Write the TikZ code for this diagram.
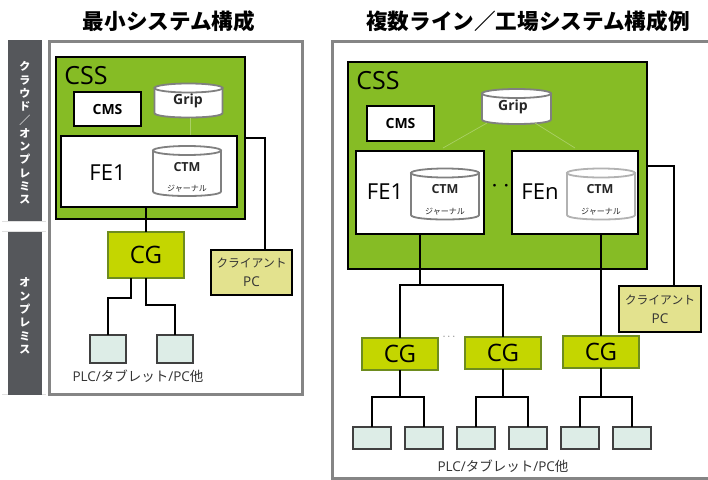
\documentclass[tikz,border=0pt]{standalone}
\usepackage{fontspec}
\setmainfont{Open Sans}
\newfontfamily\jp{Noto Sans CJK JP}
\definecolor{framegray}{HTML}{858585}
\definecolor{bandgray}{HTML}{55575B}
\definecolor{cssgreen}{HTML}{86BC25}
\definecolor{cgfill}{HTML}{C4D600}
\definecolor{cgline}{HTML}{6E8C1E}
\definecolor{clientfill}{HTML}{E3E28E}
\definecolor{devfill}{HTML}{DDEDE7}
\tikzset{
 frame/.style={draw=framegray,line width=3pt,fill=white,rectangle,inner sep=0,outer sep=0},
 band/.style={fill=bandgray,rectangle,inner sep=0,outer sep=0,text=white,font=\jp\bfseries\fontsize{11}{13.3}\selectfont,align=center},
 cssbox/.style={draw=black,line width=1.8pt,fill=cssgreen,rectangle,inner sep=0,outer sep=0},
 febox/.style={draw=black,line width=2.2pt,fill=white,rectangle,inner sep=0,outer sep=0},
 cmsbox/.style={draw=black,line width=1.8pt,fill=white,rectangle,inner sep=0,outer sep=0,font=\bfseries\fontsize{14}{16}\selectfont,minimum width=67pt,minimum height=34pt},
 cgbox/.style={draw=cgline,line width=1.4pt,fill=cgfill,rectangle,inner sep=0,outer sep=0,font=\fontsize{24}{26}\selectfont},
 clientbox/.style={draw=black,line width=1.8pt,fill=clientfill,rectangle,inner sep=0,outer sep=0,align=center,text=black!80,font=\jp\fontsize{11.8}{19}\selectfont,minimum width=81pt,minimum height=45pt},
 devbox/.style={draw=black!75,line width=1.4pt,fill=devfill,rectangle,inner sep=0,outer sep=0,minimum width=38pt,minimum height=21pt},
 dbline/.style={draw=#1,line width=1.8pt,fill=white},
 wire/.style={draw=black,line width=1.9pt,line join=miter},
 faint/.style={draw=cssgreen!70!white,line width=0.7pt},
 title/.style={font=\jp\bfseries\fontsize{21.6}{24}\selectfont,inner sep=0},
 griplab/.style={inner sep=0,font=\bfseries\fontsize{14}{16}\selectfont,text=black!85},
 biglab/.style={inner sep=0,font=\fontsize{25}{27}\selectfont},
 felab/.style={inner sep=0,font=\fontsize{22}{24}\selectfont},
 ctm/.style={inner sep=0,font=\bfseries\fontsize{12.5}{14}\selectfont,text=black!85},
 jnl/.style={inner sep=0,font=\jp\fontsize{8}{10}\selectfont,text=black!85},
 plc/.style={inner sep=0,text=black!80,font=\fontsize{13.5}{15}\selectfont},
 sep/.style={draw=black!12,line width=0.8pt},
}
% cylinder: name, centre x, centre y, width, height, colour
\newcommand{\dbcyl}[6]{%
  \pgfmathsetmacro{\cL}{#2-#4/2}%
  \pgfmathsetmacro{\cR}{#2+#4/2}%
  \pgfmathsetmacro{\cT}{#3-#5/2+4.5}%
  \pgfmathsetmacro{\cB}{#3+#5/2-4.5}%
  \pgfmathsetmacro{\cC}{#3+#5/2+1.5}%
  \draw[dbline=#6] (\cL,\cT) -- (\cL,\cB) .. controls (\cL,\cC) and (\cR,\cC) .. (\cR,\cB) -- (\cR,\cT) -- cycle;
  \coordinate (#1) at (#2,\cT);
  \draw[dbline=#6] (#1) ellipse [x radius=#4/2*1pt,y radius=4.5pt];
}
\begin{document}
\begin{tikzpicture}[x=1pt,y=-1pt]
\useasboundingbox (0,0) rectangle (708,479);
% titles
\node[title] (t1) at (169,21) {最小システム構成};
\node[title] (t2) at (528,21) {複数ライン／工場システム構成例};
% bands
\draw[sep] (2,221) -- (46,221);
\draw[sep] (2,231) -- (46,231);
\draw[sep] (2,394.5) -- (46,394.5);
\node[band,minimum width=34pt,minimum height=181pt] (b1) at (25,130.5) {};
\node[band] (b1t) at (25,133) {ク\\ラ\\ウ\\ド\\／\\オ\\ン\\プ\\レ\\ミ\\ス};
\node[band,minimum width=34pt,minimum height=163pt] (b2) at (25,313.5) {};
\node[band] (b2t) at (25,316) {オ\\ン\\プ\\レ\\ミ\\ス};
% left frame
\node[frame,minimum width=253pt,minimum height=353pt] (lf) at (175.5,217.5) {};
\node[cssbox,minimum width=189pt,minimum height=162pt] (lcss) at (150.5,138) {};
\node[biglab] (lcsst) at (86,76) {CSS};
\node[cmsbox] (lcms) at (107.5,109) {CMS};
\dbcyl{lgrip}{188.5}{100.5}{68}{34}{black!50}
\node[griplab] (lgript) at (188,101) {Grip};
\coordinate (lg1) at (190,118);
\coordinate (lg2) at (190,135);
\draw[faint] (lg1) -- (lg2);
\node[febox,minimum width=176pt,minimum height=71pt] (lfe) at (149,171.5) {};
\node[felab] (lfet) at (107.5,173) {FE1};
\dbcyl{lctm}{187}{171}{68}{50}{black!50}
\node[ctm] (lctmt) at (187,167) {CTM};
\node[jnl] (ljnl) at (187,189) {ジャーナル};
\node[cgbox,minimum width=76pt,minimum height=46pt] (lcg) at (146,255) {CG};
\node[clientbox] (lcl) at (251.5,272.5) {クライアント\\{\rmfamily\fontsize{13.5}{19}\selectfont PC}};
\node[devbox,minimum width=36pt,minimum height=28pt] (ld1) at (108,349) {};
\node[devbox,minimum width=36pt,minimum height=28pt] (ld2) at (175,349) {};
\node[plc] (lplc) at (138,376) {PLC/{\jp タブレット}/PC{\jp 他}};
\coordinate (lw) at (265,138);
\coordinate (lj1) at (131,298);
\coordinate (lj2) at (146,305);
\draw[wire] (lcss.east |- lw) -- (lw) -- (lw |- lcl.north);
\draw[wire] (lfe.south -| lcg.north) -- (lcg.north);
\draw[wire] (lcg.south -| lj1) -- (lj1) -- (ld1.north |- lj1) -- (ld1.north);
\draw[wire] (lcg.south -| lj2) -- (lj2) -- (ld2.north |- lj2) -- (ld2.north);
% right frame
\node[frame,minimum width=382pt,minimum height=437pt] (rf) at (523,259.5) {};
\node[cssbox,minimum width=299pt,minimum height=207pt] (rcss) at (497.5,165.5) {};
\node[biglab] (rcsst) at (378,81) {CSS};
\node[cmsbox,minimum height=35pt] (rcms) at (400.5,123.5) {CMS};
\dbcyl{rgrip}{516.5}{106.5}{69}{35}{black!50}
\node[griplab] (rgript) at (513,106.5) {Grip};
\coordinate (rg1) at (487,123);
\coordinate (rg2) at (535,123);
\coordinate (rf1) at (443,148);
\coordinate (rf2) at (575,148);
\draw[faint] (rg1) -- (rf1);
\draw[faint] (rg2) -- (rf2);
\node[febox,minimum width=128pt,minimum height=83pt] (rfe1) at (420,192.5) {};
\node[febox,minimum width=126pt,minimum height=83pt] (rfen) at (575,192.5) {};
\node[felab] (rfe1t) at (385,192) {FE1};
\node[felab] (rfent) at (540,192) {FEn};
\dbcyl{rctm1}{445}{194}{68}{51}{black!50}
\dbcyl{rctmn}{601}{194}{68}{51}{black!30}
\node[ctm] (rc1) at (445,189) {CTM};
\node[ctm] (rcn) at (600,189) {CTM};
\node[jnl] (rj1) at (445,212) {ジャーナル};
\node[jnl] (rjn) at (601,212) {ジャーナル};
\node[inner sep=0,font=\jp\bfseries\fontsize{10}{12}\selectfont] (rdots) at (500.5,187) {・\,・};
\node[cgbox,minimum width=76pt,minimum height=32pt] (rcg1) at (400,354) {CG};
\node[cgbox,minimum width=76pt,minimum height=32pt] (rcg2) at (503,353) {CG};
\node[cgbox,minimum width=76pt,minimum height=32pt] (rcg3) at (601,352) {CG};
\node[inner sep=0,text=black!60,font=\fontsize{11}{12}\selectfont] (rdots2) at (449,337) {$\cdots$};
\node[clientbox,minimum width=82pt,minimum height=46pt] (rcl) at (660,309) {クライアント\\{\rmfamily\fontsize{13.5}{19}\selectfont PC}};
\foreach \n/\cx in {1/372,2/424,3/476,4/528,5/580,6/632}
  \node[devbox,minimum height=22pt] (rd\n) at (\cx,438) {};
\node[plc] (rplc) at (503,466) {PLC/{\jp タブレット}/PC{\jp 他}};
% right wires
\coordinate (rw) at (674,166);
\coordinate (rw2) at (420,285);
\coordinate (rj3) at (601,397);
\draw[wire] (rcss.east |- rw) -- (rw) -- (rw |- rcl.north);
\draw[wire] (rfe1.south) -- (rw2);
\draw[wire] (rcg1.north) -- (rcg1.north |- rw2) -- (rcg2.north |- rw2) -- (rcg2.north);
\draw[wire] (rfen.south -| rcg3.north) -- (rcg3.north);
\draw[wire] (rcg1.south) -- (rcg1.south |- rj3);
\draw[wire] (rcg2.south) -- (rcg2.south |- rj3);
\draw[wire] (rcg3.south) -- (rj3);
\draw[wire] (rd1.north) -- (rd1.north |- rj3) -- (rd2.north |- rj3) -- (rd2.north);
\draw[wire] (rd3.north) -- (rd3.north |- rj3) -- (rd4.north |- rj3) -- (rd4.north);
\draw[wire] (rd5.north) -- (rd5.north |- rj3) -- (rd6.north |- rj3) -- (rd6.north);
\end{tikzpicture}
\end{document}
